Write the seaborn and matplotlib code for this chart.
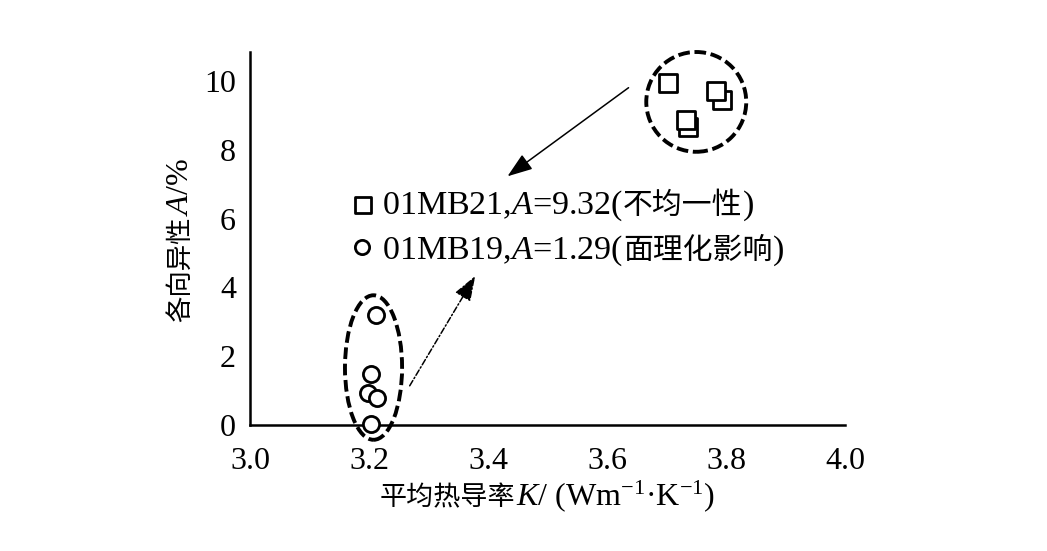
import matplotlib
matplotlib.use("Agg")
import matplotlib.pyplot as plt
import seaborn as sns
import pandas as pd
from matplotlib.patches import Ellipse, FancyArrowPatch
from matplotlib.transforms import offset_copy

# 数据
sq_k = [3.702, 3.736, 3.732, 3.793, 3.783]
sq_a = [9.95, 8.65, 8.85, 9.45, 9.72]
ci_k = [3.212, 3.203, 3.199, 3.213, 3.203]
ci_a = [3.20, 1.48, 0.92, 0.78, 0.02]

x_ticks = [3.0, 3.2, 3.4, 3.6, 3.8, 4.0]
y_ticks = [0, 2, 4, 6, 8, 10]

sns.set_style("white")
plt.rcParams["font.family"] = ["Liberation Serif", "Noto Sans CJK SC", "DejaVu Serif"]
plt.rcParams["mathtext.fontset"] = "custom"
plt.rcParams["mathtext.rm"] = "Liberation Serif"
plt.rcParams["mathtext.it"] = "Liberation Serif:italic"

SERIF = ["Liberation Serif"]
CJK = ["Noto Sans CJK SC"]
FS = 23

fig = plt.figure(figsize=(10.47, 5.51), dpi=100)
ax = fig.add_axes([250 / 1047, 1 - 425 / 551, 595 / 1047, 373 / 551])

df_sq = pd.DataFrame({"K": sq_k, "A": sq_a})
df_ci = pd.DataFrame({"K": ci_k, "A": ci_a})
sns.scatterplot(data=df_sq, x="K", y="A", marker="s", s=175, color="white",
                edgecolor="black", linewidth=2, ax=ax, clip_on=False, zorder=4)
sns.scatterplot(data=df_ci, x="K", y="A", marker="o", s=135, color="white",
                edgecolor="black", linewidth=2, ax=ax, clip_on=False, zorder=4)

ax.set_xlim(3.0, 4.0)
ax.set_ylim(0, 10.84)
ax.set_xticks(x_ticks)
ax.set_xticklabels([f"{v:.1f}" for v in x_ticks])
ax.set_yticks(y_ticks)
ax.set_yticklabels([str(v) for v in y_ticks])
ax.set_xlabel("")
ax.set_ylabel("")
for s in ["top", "right"]:
    ax.spines[s].set_visible(False)
for s in ["left", "bottom"]:
    ax.spines[s].set_linewidth(1.8)
    ax.spines[s].set_color("black")
ax.tick_params(direction="in", length=7, width=1.8, labelsize=FS, colors="black")
ax.tick_params(axis="x", pad=16)
ax.tick_params(axis="y", pad=10)
for lab in ax.get_xticklabels() + ax.get_yticklabels():
    lab.set_family(SERIF)

# 虚线圈
ax.add_patch(Ellipse((3.75, 9.39), 0.168, 2.9, fill=False, ec="black",
                     lw=2.8, ls=(0, (3, 1.2)), clip_on=False, zorder=3))
ax.add_patch(Ellipse((3.2076, 1.67), 0.096, 4.2, fill=False, ec="black",
                     lw=2.8, ls=(0, (3, 1.2)), clip_on=False, zorder=3))

# 箭头
head = "-|>,head_length=0.7,head_width=0.25"
ax.add_patch(FancyArrowPatch((3.64, 9.85), (3.429, 7.18), arrowstyle=head,
                             mutation_scale=22, lw=1.1, color="black", zorder=5))
ax.add_patch(FancyArrowPatch((3.266, 1.07), (3.381, 4.40), arrowstyle=head,
                             mutation_scale=22, lw=1.1, color="black",
                             ls=(0, (4, 1.5, 1, 1.5)), zorder=5))

# 图例
ax.scatter([3.190], [6.40], marker="s", s=120, facecolor="white", edgecolor="black",
           linewidth=2, zorder=5)
ax.scatter([3.188], [5.16], marker="o", s=105, facecolor="white", edgecolor="black",
           linewidth=2, zorder=5)


def rich_text(x, y, pieces, transform, rotation=0):
    renderer = fig.canvas.get_renderer()
    tr = transform
    for s, fam, size, style in pieces:
        t = fig.text(x, y, s, transform=tr, fontsize=size, family=fam, style=style,
                     ha="left", va="baseline", rotation=rotation,
                     rotation_mode="anchor", color="black")
        ext = t.get_window_extent(renderer)
        if rotation == 90:
            tr = offset_copy(t.get_transform(), y=ext.height, units="dots")
        else:
            tr = offset_copy(t.get_transform(), x=ext.width, units="dots")


LFS = 24.5
rich_text(3.222, 6.13, [("01MB21,$A$=9.32(", SERIF, LFS, "normal"),
                        ("不均一性", CJK, LFS - 3, "normal"),
                        (")", SERIF, LFS, "normal")], ax.transData)
rich_text(3.222, 4.82, [("01MB19,$A$=1.29(", SERIF, LFS, "normal"),
                        ("面理化影响", CJK, LFS - 3, "normal"),
                        (")", SERIF, LFS, "normal")], ax.transData)

# 坐标轴标题
rich_text(380 / 1047, 1 - 505 / 551, [("平均热导率", CJK, FS - 3.5, "normal"),
                                      ("$K$/ (Wm$^{-1}$·K$^{-1}$)", SERIF, FS, "normal")],
          fig.transFigure)
rich_text(188 / 1047, 1 - 322 / 551, [("各向异性", CJK, FS - 4, "normal"),
                                      ("$A$/%", SERIF, FS, "normal")],
          fig.transFigure, rotation=90)

fig.savefig("out.png", dpi=100)
